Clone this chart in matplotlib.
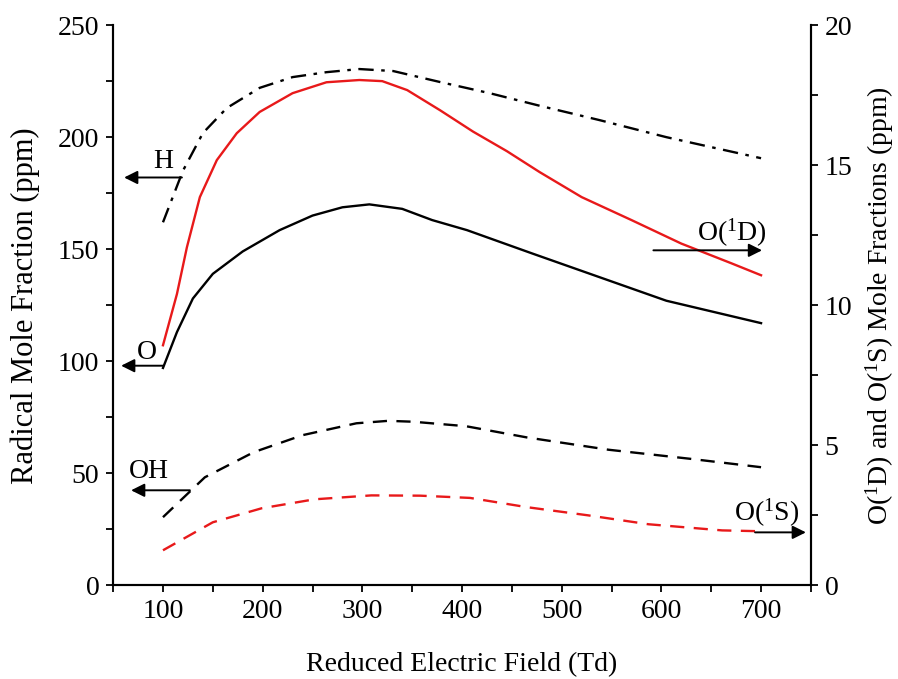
import matplotlib
matplotlib.use("Agg")
import matplotlib.pyplot as plt
from matplotlib.ticker import MultipleLocator

plt.rcParams["font.family"] = ["Liberation Serif", "DejaVu Serif"]
plt.rcParams["mathtext.fontset"] = "custom"
plt.rcParams["mathtext.rm"] = "Liberation Serif"
plt.rcParams["mathtext.it"] = "Liberation Serif:italic"

# reduced electric field (Td) and mole fractions
x_o = [100, 114, 130, 150, 180, 217, 250, 280, 307, 340, 370, 405, 471, 538, 605, 700]
o_vals = [97, 113, 128, 139, 149, 158.5, 165, 168.7, 170, 168, 163, 158.5, 148, 137.5, 127, 117]

x_h = [100, 120, 140, 164, 197, 230, 264, 297, 331, 378, 428, 478, 538, 605, 700]
h_vals = [162, 185, 201.8, 213, 222, 226.8, 229, 230.4, 229.5, 224.6, 219.6, 214, 207.6, 200, 190.6]

x_oh = [100, 142, 191, 240, 294, 326, 351, 404, 465, 547, 628, 700]
oh_vals = [30.4, 48.2, 59.4, 67, 72.3, 73.4, 73, 71, 66, 60.5, 56.5, 52.7]

x_o1d = [100, 114, 124, 137, 154, 174, 197, 230, 264, 297, 320, 345, 378, 411, 445,
         478, 520, 570, 620, 670, 700]
o1d_vals = [8.57, 10.4, 12.07, 13.86, 15.18, 16.14, 16.9, 17.57, 17.96, 18.04, 18.0,
            17.68, 16.96, 16.2, 15.5, 14.75, 13.86, 13.04, 12.2, 11.5, 11.07]

x_o1s = [100, 150, 199, 252, 309, 358, 408, 465, 526, 587, 661, 700]
o1s_vals = [1.25, 2.25, 2.75, 3.07, 3.21, 3.2, 3.12, 2.79, 2.5, 2.18, 1.96, 1.93]

fig, ax = plt.subplots(figsize=(8.98, 6.79), dpi=100)
fig.subplots_adjust(left=0.126, right=0.903, top=0.963, bottom=0.138)
ax2 = ax.twinx()

lw = 1.7
ax.plot(x_o, o_vals, color="black", lw=lw)
ax.plot(x_h, h_vals, color="black", lw=lw, dashes=(6.5, 3.2, 1.5, 3.2))
ax.plot(x_oh, oh_vals, color="black", lw=lw, dashes=(6, 4))
ax2.plot(x_o1d, o1d_vals, color="#e8191a", lw=lw)
ax2.plot(x_o1s, o1s_vals, color="#e8191a", lw=lw, dashes=(6, 4))

ax.set_xlim(50, 750)
ax.set_ylim(0, 250)
ax2.set_ylim(0, 20)
ax.xaxis.set_major_locator(MultipleLocator(100))
ax.xaxis.set_minor_locator(MultipleLocator(50))
ax.yaxis.set_major_locator(MultipleLocator(50))
ax.yaxis.set_minor_locator(MultipleLocator(25))
ax2.yaxis.set_major_locator(MultipleLocator(5))
ax2.yaxis.set_minor_locator(MultipleLocator(2.5))

for a in (ax, ax2):
    a.tick_params(which="both", direction="out", width=1.3, labelsize=20)
    a.tick_params(which="major", length=5, pad=5)
    a.tick_params(which="minor", length=5)
    for s in a.spines.values():
        s.set_linewidth(1.5)
ax.spines["top"].set_visible(False)
ax2.spines["top"].set_visible(False)

ax.set_xlabel("Reduced Electric Field (Td)", fontsize=20, labelpad=20)
ax.set_ylabel("Radical Mole Fraction (ppm)", fontsize=22, labelpad=13)
ax2.set_ylabel("O($^{1}$D) and O($^{1}$S) Mole Fractions (ppm)", fontsize=20, labelpad=8)

arrow = dict(arrowstyle="-|>", color="black", lw=1.4, mutation_scale=20,
             shrinkA=0, shrinkB=0)
# left-pointing arrows (left axis)
ax.annotate("", xy=(61, 182), xytext=(119, 182), arrowprops=arrow)
ax.text(100, 189, "H", fontsize=20, ha="center", va="center")
ax.annotate("", xy=(58, 98), xytext=(100, 98), arrowprops=arrow)
ax.text(84, 104, "O", fontsize=20, ha="center", va="center")
ax.annotate("", xy=(68, 42.4), xytext=(127, 42.4), arrowprops=arrow)
ax.text(86, 51, "OH", fontsize=20, ha="center", va="center")
# right-pointing arrows (right axis)
ax2.annotate("", xy=(701, 11.96), xytext=(592, 11.96), arrowprops=arrow)
ax2.text(671, 12.6, "O($^{1}$D)", fontsize=20, ha="center", va="center")
ax2.annotate("", xy=(745, 1.89), xytext=(694, 1.89), arrowprops=arrow)
ax2.text(706, 2.6, "O($^{1}$S)", fontsize=20, ha="center", va="center")

fig.savefig("out.png", dpi=100)
